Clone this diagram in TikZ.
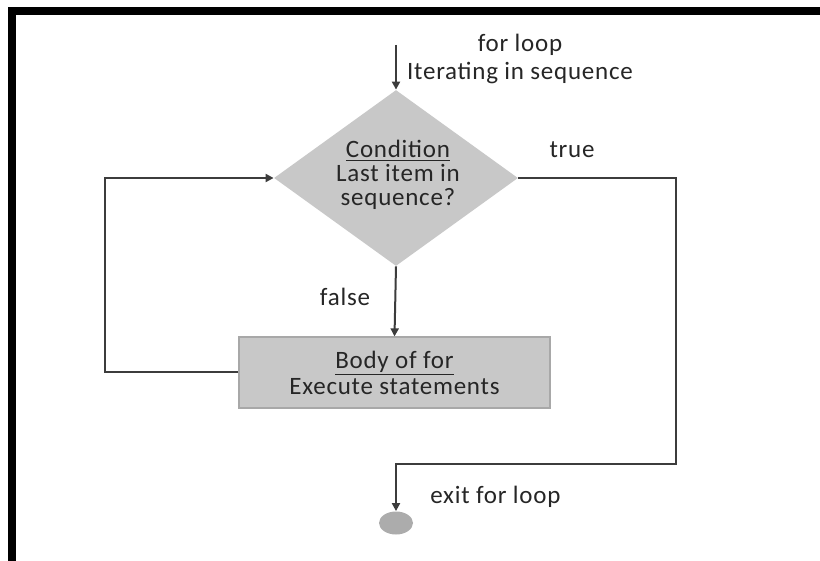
\documentclass[tikz,border=0pt]{standalone}
\usepackage{fontspec}
\setmainfont{Carlito}[LetterSpace=3]
\usetikzlibrary{shapes.geometric,arrows.meta}

\definecolor{lineclr}{HTML}{3C3C3C}
\definecolor{shapeclr}{HTML}{C8C8C8}
\definecolor{boxedge}{HTML}{A8A8A8}

\tikzset{
  flow/.style={draw=lineclr, line width=1pt},
  arr/.style={flow, -{Triangle[length=4pt,width=4pt]}},
  lbl/.style={text=black!85, font=\fontsize{12.5}{12}\selectfont, inner sep=0pt},
}

\begin{document}
\begin{tikzpicture}[x=0.5pt,y=-0.5pt]
  \useasboundingbox (0,0) rectangle (820,561);
  \fill[white] (0,0) rectangle (820,561);
  % frame
  \fill[black] (8,7) rectangle (820,15);
  \fill[black] (8,7) rectangle (16,561);

  % shapes
  \node[diamond, fill=shapeclr, inner sep=0pt, minimum width=122pt, minimum height=88pt] (cond) at (396,178) {};
  \node[lbl, align=center] (condtext) at (398,175) {\underline{Condition}\\Last item in\\sequence?};
  \node[rectangle, fill=shapeclr, draw=boxedge, line width=0.6pt, minimum width=155.5pt, minimum height=35.5pt] (body) at (394.5,372.5) {};
  \node[lbl, align=center] (bodytext) at (body) {\underline{Body of for}\\Execute statements};
  \node[ellipse, fill=gray!65, minimum width=17pt, minimum height=11.5pt, inner sep=0pt] (stop) at (396,523) {};

  \coordinate (start) at (396,45);
  \coordinate (loopa) at (105,372.5);
  \coordinate (loopb) at (105,178);
  \coordinate (truea) at (676,178);
  \coordinate (trueb) at (676,464);
  \coordinate (truec) at (396,464);

  % connectors
  \draw[arr] (start) -- (cond.north);
  \draw[arr] (cond.south) -- (body.north);
  \draw[arr] (body.west) -- (loopa) -- (loopb) -- (cond.west);
  \draw[arr] (cond.east) -- (truea) -- (trueb) -- (truec) -- (stop.north);

  % labels
  \node[lbl, align=center] (forloop) at (520,59) {for loop\\[2pt]Iterating in sequence};
  \node[lbl] (truelbl) at (572,150) {true};
  \node[lbl] (falselbl) at (345,297) {false};
  \node[lbl, anchor=west] (exitlbl) at (430,497) {exit for loop};
\end{tikzpicture}
\end{document}
